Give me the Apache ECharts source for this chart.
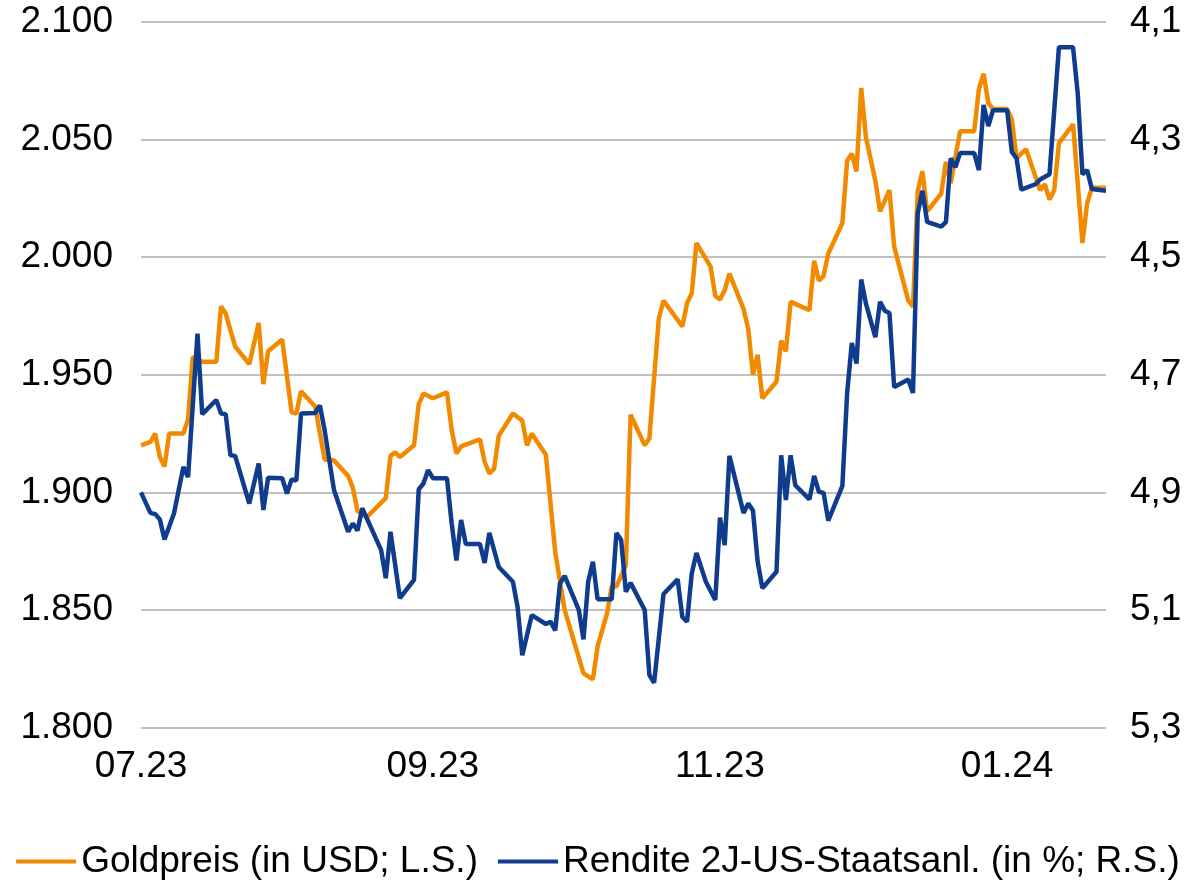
<!DOCTYPE html>
<html>
<head>
<meta charset="utf-8">
<script src="https://cdn.jsdelivr.net/npm/echarts@6/dist/echarts.min.js"></script>
<style>
  html, body { margin: 0; padding: 0; background: #fff; }
  #main { width: 1196px; height: 880px; }
</style>
</head>
<body>
<div id="main"></div>
<script type="text/javascript">
    // x-Achse: Kalendertage ab 01.07.2023
    var startDate = Date.UTC(2023, 6, 1);
    var dayCount = 206;
    var tickDates = ['2023-07-01', '2023-09-01', '2023-11-01', '2024-01-01'];
    var tickLabels = ['07.23', '09.23', '11.23', '01.24'];

    // Goldpreis (USD, linke Skala)
    var goldDays = [0, 2, 3, 4, 5, 6, 9, 10, 11, 13, 16, 17, 18, 20, 23, 25, 26, 27, 30, 32, 33, 34, 37, 39, 41,
        44, 45, 46, 48, 52, 53, 54, 55, 58, 59, 60, 62, 65, 66, 67, 68, 72, 73, 74, 75, 76, 79, 81, 82, 83,
        86, 88, 90, 94, 96, 97, 99, 100, 101, 103, 104, 107, 108, 110, 111, 115, 116, 117, 118, 121, 122, 123, 124, 125,
        128, 129, 130, 131, 132, 135, 136, 137, 138, 142, 143, 144, 145, 146, 149, 150, 151, 152, 153, 154, 156, 157,
        159, 160, 163, 164, 165, 166, 167, 170, 171, 172, 174, 177, 178, 179, 180, 181, 184, 185, 186, 188,
        191, 192, 193, 194, 195, 198, 200, 201, 202, 205];
    var goldValues = [1920, 1921.5, 1925, 1915, 1911, 1925, 1925, 1931, 1957.5, 1955.5, 1955.5, 1979, 1976, 1962, 1954.5, 1972, 1946, 1960, 1965, 1934, 1933.5, 1943, 1936.5, 1914, 1913.5,
        1907, 1902, 1892, 1889.5, 1897.5, 1915.5, 1917, 1915, 1920, 1937.5, 1942, 1940, 1942.5, 1926.5, 1916.5, 1919.5, 1922.5, 1913, 1908, 1910, 1924, 1933.5, 1930.5, 1920, 1925,
        1916, 1874.5, 1850, 1823, 1820.5, 1834.5, 1848.5, 1860, 1860, 1869, 1933, 1920, 1923, 1974, 1981.5, 1970.5, 1980.5, 1984.5, 2006, 1996, 1983.5, 1982, 1986, 1993,
        1978, 1969.5, 1950, 1958.5, 1940, 1947, 1964.5, 1960, 1981, 1977.5, 1998.5, 1990, 1992, 2001.5, 2014.5, 2041, 2044, 2036.5, 2072, 2051, 2032.5, 2019.5,
        2028.5, 2004.5, 1981.5, 1979, 2028, 2036.5, 2019.5, 2027, 2040.5, 2031.5, 2053.5, 2053.5, 2071.5, 2078, 2065.5, 2063, 2063, 2058.5, 2042, 2046,
        2028.5, 2031, 2024.5, 2028.5, 2048.5, 2056.5, 2006, 2023, 2029.5, 2029.5];

    // Rendite 2J-US-Staatsanleihen (%, rechte Skala, invertiert)
    var yieldDays = [0, 2, 3, 4, 5, 7, 9, 10, 12, 13, 16, 17, 18, 19, 20, 23, 25, 26, 27, 30, 31, 32, 33, 34, 37, 38, 39, 41,
        44, 45, 46, 47, 51, 52, 53, 55, 58, 59, 60, 61, 62, 65, 66, 67, 68, 69, 72, 73, 74, 76, 79, 80, 81, 83,
        86, 87, 88, 89, 90, 93, 94, 95, 96, 97, 100, 101, 102, 103, 104, 107, 108, 109, 111, 114, 115, 116, 117, 118, 120,
        122, 123, 124, 125, 128, 129, 130, 131, 132, 135, 136, 137, 138, 139, 142, 143, 144, 145, 146, 149, 150, 151, 152,
        153, 154, 156, 157, 158, 159, 160, 163, 164, 165, 166, 167, 170, 171, 172, 173, 174, 177, 178, 179, 180, 181,
        184, 185, 186, 187, 190, 191, 193, 195, 198, 199, 200, 201, 202, 205];
    var yieldValues = [4.90, 4.935, 4.937, 4.946, 4.98, 4.936, 4.857, 4.874, 4.63, 4.767, 4.743, 4.766, 4.767, 4.837, 4.838, 4.919, 4.851, 4.93, 4.875, 4.876, 4.902, 4.878, 4.88, 4.766, 4.765, 4.752, 4.794, 4.896,
        4.967, 4.953, 4.965, 4.927, 4.998, 5.046, 4.967, 5.08, 5.049, 4.895, 4.885, 4.862, 4.876, 4.876, 4.953, 5.016, 4.947, 4.988, 4.988, 5.02, 4.969, 5.027, 5.052, 5.095, 5.177, 5.109,
        5.124, 5.12, 5.135, 5.055, 5.042, 5.10, 5.15, 5.052, 5.018, 5.082, 5.082, 4.969, 4.981, 5.069, 5.054, 5.10, 5.211, 5.224, 5.073, 5.048, 5.112, 5.12, 5.038, 5.003, 5.052,
        5.083, 4.943, 4.99, 4.838, 4.935, 4.919, 4.931, 5.018, 5.063, 5.035, 4.837, 4.913, 4.837, 4.888, 4.912, 4.872, 4.899, 4.901, 4.948, 4.889, 4.732, 4.646, 4.681,
        4.538, 4.579, 4.636, 4.576, 4.591, 4.595, 4.721, 4.708, 4.731, 4.426, 4.387, 4.44, 4.448, 4.44, 4.332, 4.347, 4.323, 4.323, 4.352, 4.241, 4.277, 4.25,
        4.25, 4.321, 4.332, 4.385, 4.376, 4.368, 4.359, 4.143, 4.143, 4.222, 4.359, 4.352, 4.384, 4.387];

    var dates = [];
    for (var i = 0; i < dayCount; i++) {
        dates.push(new Date(startDate + i * 86400000).toISOString().slice(0, 10));
    }

    // rechte Skala beginnt bei 4,1 -> um 0,1 verschoben, damit min ein Vielfaches von 0,2 ist
    var yieldShift = 0.1;

    var goldData = goldDays.map(function (d, i) { return [d, goldValues[i]]; });
    var yieldData = yieldDays.map(function (d, i) { return [d, yieldValues[i] - yieldShift]; });

    var font = "'Liberation Sans', Arial, sans-serif";
    var myChart = echarts.init(document.getElementById('main'));
    var option = {
        backgroundColor: '#fff',
        animation: false,
        textStyle: { fontFamily: font },
        grid: { left: 141, right: 90, top: 22, bottom: 152.5, containLabel: false },
        legend: {
            top: 838,
            left: 'center',
            icon: 'rect',
            itemWidth: 60,
            itemHeight: 4,
            itemGap: 20,
            textStyle: { fontSize: 37, color: '#000', fontFamily: font },
            data: ['Goldpreis (in USD; L.S.)', 'Rendite 2J-US-Staatsanl. (in %; R.S.)']
        },
        xAxis: {
            type: 'category',
            boundaryGap: false,
            data: dates,
            axisLine: { show: false },
            axisTick: { show: false },
            axisLabel: {
                interval: function (index, value) { return tickDates.indexOf(value) >= 0; },
                formatter: function (value) {
                    var k = tickDates.indexOf(value);
                    return k >= 0 ? tickLabels[k] : '';
                },
                fontSize: 37,
                color: '#000',
                margin: 21
            }
        },
        yAxis: [
            {
                type: 'value',
                min: 1800,
                max: 2100,
                interval: 50,
                axisLine: { show: false },
                axisTick: { show: false },
                axisLabel: {
                    fontSize: 37,
                    color: '#000',
                    margin: 28,
                    formatter: function (v) { return (v / 1000).toFixed(3); }
                },
                splitLine: { lineStyle: { color: '#ADADAD', width: 1.5 } }
            },
            {
                type: 'value',
                inverse: true,
                min: 4.0,
                max: 5.2,
                interval: 0.2,
                axisLine: { show: false },
                axisTick: { show: false },
                axisLabel: {
                    fontSize: 37,
                    color: '#000',
                    margin: 24,
                    formatter: function (v) { return (v + yieldShift).toFixed(1).replace('.', ','); }
                },
                splitLine: { show: false }
            }
        ],
        series: [
            {
                name: 'Goldpreis (in USD; L.S.)',
                type: 'line',
                yAxisIndex: 0,
                data: goldData,
                symbol: 'none',
                color: '#F28A00',
                lineStyle: { width: 4.5, color: '#F28A00' }
            },
            {
                name: 'Rendite 2J-US-Staatsanl. (in %; R.S.)',
                type: 'line',
                yAxisIndex: 1,
                data: yieldData,
                symbol: 'none',
                color: '#0F3C8C',
                lineStyle: { width: 4.5, color: '#0F3C8C' }
            }
        ]
    };
    myChart.setOption(option);
</script>
</body>
</html>
